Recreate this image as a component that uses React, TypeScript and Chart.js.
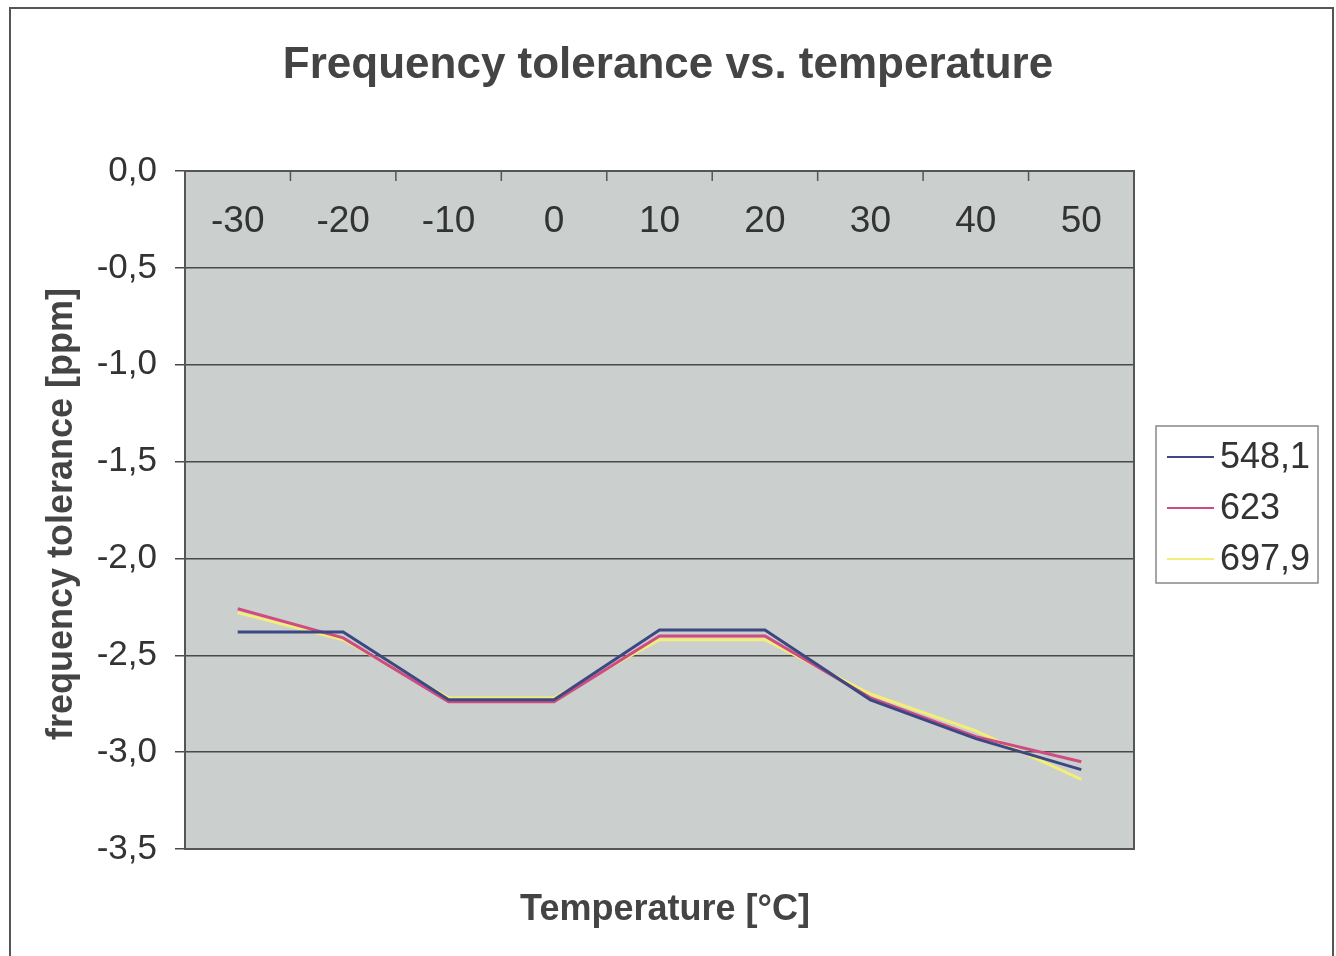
import React, { useEffect, useRef } from "react";
import { Chart, registerables } from "chart.js";

Chart.register(...registerables);

const categories = ["-30", "-20", "-10", "0", "10", "20", "30", "40", "50"];
const seriesNames = ["548,1", "623", "697,9"];
const series548 = [-2.38, -2.38, -2.73, -2.73, -2.37, -2.37, -2.73, -2.93, -3.09];
const series623 = [-2.26, -2.41, -2.74, -2.74, -2.40, -2.40, -2.72, -2.92, -3.05];
const series698 = [-2.28, -2.42, -2.72, -2.72, -2.42, -2.42, -2.70, -2.89, -3.14];
const seriesColors = ["#3b4883", "#cf4c82", "#f2ee78"];
const yTicksMin = -3.5;
const yTicksMax = 0;
const yStep = 0.5;

const FONT = "Arial, 'Liberation Sans', sans-serif";

const decorPlugin = {
  id: "decor",
  beforeDraw(chart: any) {
    const { ctx, chartArea: a, width, height } = chart;
    ctx.save();
    ctx.fillStyle = "#ffffff";
    ctx.fillRect(0, 0, width, height);
    ctx.fillStyle = "#cbcfce";
    ctx.fillRect(a.left, a.top, a.right - a.left, a.bottom - a.top);
    ctx.strokeStyle = "#555";
    ctx.lineWidth = 2;
    ctx.strokeRect(10, 8, 1323, 960);
    ctx.restore();
  },
  afterDraw(chart: any) {
    const { ctx, chartArea: a } = chart;
    const xs = chart.scales.x;
    ctx.save();
    // plot border
    ctx.strokeStyle = "#555";
    ctx.lineWidth = 2;
    ctx.strokeRect(a.left, a.top, a.right - a.left, a.bottom - a.top);
    // x tick marks (inside, between categories)
    const n = categories.length;
    const step = (a.right - a.left) / n;
    ctx.lineWidth = 1.5;
    ctx.beginPath();
    for (let i = 1; i < n; i++) {
      const px = xs.getPixelForTick(i) - step / 2;
      ctx.moveTo(px, a.top);
      ctx.lineTo(px, a.top + 10);
    }
    ctx.stroke();
    // x labels under the top axis
    ctx.fillStyle = "#333";
    ctx.font = `37px ${FONT}`;
    ctx.textAlign = "center";
    ctx.textBaseline = "middle";
    categories.forEach((c, i) => {
      ctx.fillText(c, xs.getPixelForTick(i), a.top + 51);
    });
    // title
    ctx.fillStyle = "#444";
    ctx.font = `bold 44px ${FONT}`;
    ctx.fillText("Frequency tolerance vs. temperature", 668, 66);
    // x title
    ctx.font = `bold 36px ${FONT}`;
    ctx.fillText("Temperature [°C]", 665, 910);
    // y title
    ctx.save();
    ctx.translate(62, 514);
    ctx.rotate(-Math.PI / 2);
    ctx.font = `bold 36px ${FONT}`;
    ctx.fillText("frequency tolerance [ppm]", 0, 0);
    ctx.restore();
    // legend
    ctx.fillStyle = "#fff";
    ctx.fillRect(1156, 426, 162, 157);
    ctx.strokeStyle = "#888";
    ctx.lineWidth = 1.5;
    ctx.strokeRect(1156, 426, 162, 157);
    ctx.font = `36px ${FONT}`;
    ctx.textAlign = "left";
    chart.data.datasets.forEach((ds: any, i: number) => {
      const y = 457 + i * 51;
      ctx.strokeStyle = ds.borderColor;
      ctx.lineWidth = 2;
      ctx.beginPath();
      ctx.moveTo(1167, y);
      ctx.lineTo(1214, y);
      ctx.stroke();
      ctx.fillStyle = "#333";
      ctx.fillText(ds.label, 1220, y + 1);
    });
    ctx.restore();
  },
};

export default function App() {
  const ref = useRef<HTMLCanvasElement>(null);
  useEffect(() => {
    document.body.style.margin = "0";
    const canvas = ref.current!;
    const chart = new Chart(canvas, {
      type: "line",
      data: {
        labels: categories,
        datasets: [series548, series623, series698].map((d, i) => ({
          label: seriesNames[i],
          data: d,
          borderColor: seriesColors[i],
          backgroundColor: seriesColors[i],
          borderWidth: 3,
          pointRadius: 0,
          tension: 0,
        })),
      },
      options: {
        responsive: false,
        animation: false,
        layout: { padding: { left: 0, top: 171, right: 202, bottom: 107 } },
        plugins: {
          legend: { display: false },
          title: { display: false },
          tooltip: { enabled: false },
        },
        scales: {
          x: {
            type: "category",
            position: "top",
            offset: true,
            grid: { display: false },
            border: { display: false },
            ticks: { display: false },
            afterFit: (s: any) => {
              s.height = 0;
            },
          },
          y: {
            min: yTicksMin,
            max: yTicksMax,
            ticks: {
              stepSize: yStep,
              padding: 18,
              color: "#333",
              font: { size: 35, family: FONT },
              callback: (v: any) => Number(v).toFixed(1).replace(".", ","),
            },
            grid: { color: "#4a4a4a", lineWidth: 1.5, tickLength: 10 },
            border: { display: true, color: "#555", width: 2 },
            afterFit: (s: any) => {
              s.width = 185;
            },
          },
        },
      },
      plugins: [decorPlugin],
    });
    return () => chart.destroy();
  }, []);
  return (
    <div style={{ position: "absolute", left: 0, top: 0, width: 1336, height: 956 }}>
      <canvas ref={ref} width={1336} height={956} style={{ width: 1336, height: 956 }} />
    </div>
  );
}
